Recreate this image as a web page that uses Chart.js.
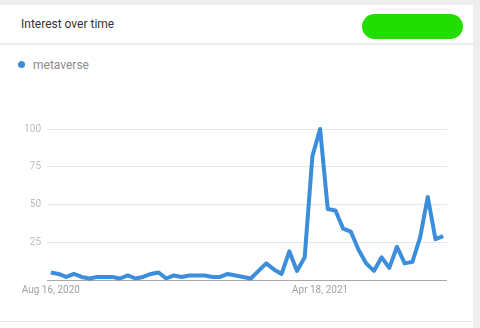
<!DOCTYPE html>
<html>
<head>
<meta charset="utf-8">
<script src="https://cdn.jsdelivr.net/npm/chart.js@4"></script>
<style>
  html, body { margin: 0; padding: 0; }
  body { width: 480px; height: 328px; background: #eeeeee; position: relative; overflow: hidden; font-family: Roboto, Arial, sans-serif; }
  .card { position: absolute; left: 0; top: 5px; width: 473px; height: 323px; background: #fff; }
  .title { position: absolute; left: 21px; top: 12px; font-size: 12px; color: #333; }
  .scribble { position: absolute; left: 362px; top: 9px; width: 101px; height: 25px; border-radius: 13px; background: #22dd00; }
  .divider { position: absolute; left: 0; top: 38px; width: 473px; height: 2px; background: #ebebeb; }
  .legend { position: absolute; left: 18px; top: 53px; font-size: 12px; color: #8a8a8a; }
  .legend .dot { display: inline-block; width: 7px; height: 7px; border-radius: 50%; background: #3b8edb; margin-right: 8px; vertical-align: 1px; }
  .bottom { position: absolute; left: 0; top: 316px; width: 473px; height: 1px; background: #e6e6e6; }
  .chart-box { position: absolute; left: 0; top: 105px; width: 473px; height: 200px; }
</style>
</head>
<body>
<div class="card">
  <div class="title">Interest over time</div>
  <div class="scribble"></div>
  <div class="divider"></div>
  <div class="legend"><span class="dot"></span>metaverse</div>
  <div class="chart-box"><canvas id="chart"></canvas></div>
  <div class="bottom"></div>
</div>
<script>
// weekly data, Google Trends style
const weeks = [
  'Aug 16, 2020', 'Aug 23, 2020', 'Aug 30, 2020', 'Sep 6, 2020', 'Sep 13, 2020', 'Sep 20, 2020',
  'Sep 27, 2020', 'Oct 4, 2020', 'Oct 11, 2020', 'Oct 18, 2020', 'Oct 25, 2020', 'Nov 1, 2020',
  'Nov 8, 2020', 'Nov 15, 2020', 'Nov 22, 2020', 'Nov 29, 2020', 'Dec 6, 2020', 'Dec 13, 2020',
  'Dec 20, 2020', 'Dec 27, 2020', 'Jan 3, 2021', 'Jan 10, 2021', 'Jan 17, 2021', 'Jan 24, 2021',
  'Jan 31, 2021', 'Feb 7, 2021', 'Feb 14, 2021', 'Feb 21, 2021', 'Feb 28, 2021', 'Mar 7, 2021',
  'Mar 14, 2021', 'Mar 21, 2021', 'Mar 28, 2021', 'Apr 4, 2021', 'Apr 11, 2021', 'Apr 18, 2021',
  'Apr 25, 2021', 'May 2, 2021', 'May 9, 2021', 'May 16, 2021', 'May 23, 2021', 'May 30, 2021',
  'Jun 6, 2021', 'Jun 13, 2021', 'Jun 20, 2021', 'Jun 27, 2021', 'Jul 4, 2021', 'Jul 11, 2021',
  'Jul 18, 2021', 'Jul 25, 2021', 'Aug 1, 2021', 'Aug 8, 2021'
];
const metaverse = [
  5, 4, 2, 4, 2, 1, 2, 2, 2, 1, 3, 1, 2, 4, 5, 1, 3, 2, 3, 3, 3, 2, 2, 4, 3, 2,
  1, 6, 11, 7, 4, 19, 6, 15, 82, 100, 47, 46, 34, 32, 20, 11, 6, 15, 8, 22, 11, 12,
  28, 55, 27, 29
];
const shownDates = ['Aug 16, 2020', 'Apr 18, 2021'];
const yTicks = [25, 50, 75, 100];

new Chart(document.getElementById('chart'), {
  type: 'line',
  data: {
    labels: weeks,
    datasets: [{
      label: 'metaverse',
      data: metaverse,
      borderColor: '#3b8edb',
      borderWidth: 4,
      borderJoinStyle: 'round',
      pointRadius: 0,
      tension: 0,
      fill: false,
      clip: false
    }]
  },
  options: {
    responsive: true,
    maintainAspectRatio: false,
    animation: false,
    layout: { padding: { top: 19, right: 26, left: 0, bottom: 0 } },
    plugins: {
      legend: { display: false },
      tooltip: { enabled: false }
    },
    scales: {
      x: {
        offset: true,
        grid: { display: false, drawTicks: false },
        border: { display: false },
        ticks: {
          autoSkip: false,
          maxRotation: 0,
          padding: 4,
          color: '#a0a0a0',
          font: { family: 'Roboto', size: 10 },
          callback: function (v) {
            const d = this.getLabelForValue(v);
            return shownDates.includes(d) ? d : '';
          }
        },
        afterFit: (scale) => { scale.height = 30; }
      },
      y: {
        min: 0,
        max: 100,
        grid: {
          drawTicks: false,
          color: (ctx) => ctx.tick && ctx.tick.value === 0 ? '#a8a8a8' : '#e6e6e6'
        },
        border: { display: false },
        ticks: {
          stepSize: 25,
          padding: 6,
          color: '#bdbdbd',
          font: { family: 'Roboto', size: 10 },
          callback: (v) => yTicks.includes(v) ? v : ''
        },
        afterFit: (scale) => { scale.width = 47; }
      }
    }
  }
});
</script>
</body>
</html>
